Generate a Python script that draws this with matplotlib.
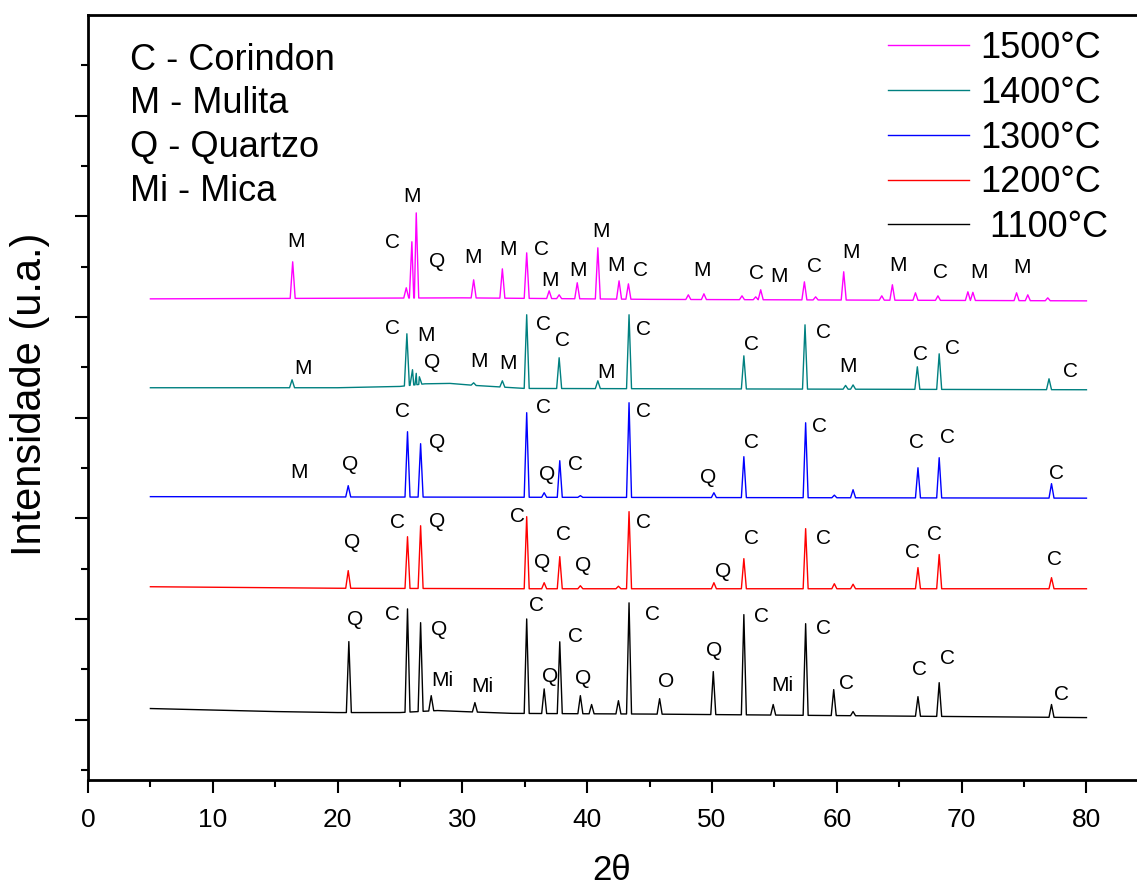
import numpy as np
import matplotlib
matplotlib.use("Agg")
import matplotlib.pyplot as plt

plt.rcParams['font.family'] = ['Liberation Sans', 'DejaVu Sans']

# --- data (2theta, intensity in a.u. incl. offset) ---
temps = ["1100°C", "1200°C", "1300°C", "1400°C", "1500°C"]
legend_labels = [" 1100°C", "1200°C", "1300°C", "1400°C", "1500°C"]
colors = ["black", "#ff0000", "#0000ff", "#008080", "#ff00ff"]

# baselines (x, y) per sample
base_1100_x = [5, 10, 15, 20, 25, 28, 30, 34, 40, 45, 50, 60, 70, 80]
base_1100_y = [110, 95, 80, 70, 70, 90, 80, 62, 58, 55, 50, 40, 30, 20]
base_1200_x = [5, 20, 35, 50, 80]
base_1200_y = [1320, 1305, 1300, 1300, 1300]
base_1300_x = [5, 40, 80]
base_1300_y = [2215, 2208, 2200]
base_1400_x = [5, 20, 25, 27, 29, 31, 35, 80]
base_1400_y = [3297, 3297, 3310, 3336, 3340, 3320, 3290, 3277]
base_1500_x = [5, 30, 45, 80]
base_1500_y = [4180, 4190, 4175, 4160]

# peaks: position and apex intensity
pk_1100_x = [20.9, 25.6, 26.65, 27.5, 31.0, 35.15, 36.55, 37.8, 39.45, 40.35, 42.5,
             43.35, 45.8, 50.1, 52.55, 54.9, 57.5, 59.75, 61.3, 66.5, 68.2, 77.2]
pk_1100_y = [775, 1100, 963, 238, 169, 1000, 305, 773, 238, 150, 188,
             1160, 208, 477, 1043, 150, 953, 298, 80, 228, 367, 150]
pk_1200_x = [20.85, 25.6, 26.65, 35.15, 36.55, 37.8, 39.45, 42.5, 43.35, 50.15,
             52.55, 57.5, 59.8, 61.3, 66.5, 68.2, 77.2]
pk_1200_y = [1480, 1817, 1926, 2016, 1360, 1619, 1330, 1325, 2066, 1360,
             1599, 1897, 1350, 1345, 1510, 1640, 1410]
pk_1300_x = [20.85, 25.6, 26.65, 35.15, 36.55, 37.8, 39.45, 43.35, 50.15, 52.55,
             57.5, 59.8, 61.3, 66.5, 68.2, 77.2]
pk_1300_y = [2324, 2860, 2741, 3049, 2254, 2572, 2225, 3148, 2254, 2612,
             2949, 2230, 2284, 2502, 2602, 2344]
pk_1400_x = [16.35, 25.55, 26.0, 26.3, 26.55, 30.9, 33.2, 35.15, 37.75, 40.85, 43.35,
             52.55, 57.45, 60.7, 61.3, 66.45, 68.2, 77.0]
pk_1400_y = [3376, 3833, 3476, 3440, 3406, 3346, 3366, 4022, 3595, 3366, 4022,
             3614, 3922, 3320, 3325, 3505, 3634, 3386]
pk_1500_x = [16.4, 25.5, 25.95, 26.3, 30.9, 33.2, 35.15, 36.95, 37.75, 39.2, 40.85,
             42.55, 43.3, 48.1, 49.35, 52.4, 53.5, 53.9, 57.4, 58.3, 60.55, 63.6,
             64.45, 66.3, 68.1, 70.5, 70.9, 74.4, 75.3, 76.9]
pk_1500_y = [4548, 4290, 4747, 5034, 4369, 4478, 4637, 4260, 4220, 4340, 4687,
             4359, 4329, 4220, 4230, 4210, 4200, 4270, 4349, 4200, 4449, 4210,
             4320, 4240, 4210, 4250, 4245, 4240, 4220, 4190]

# phase labels: x, y, text
lab_1100 = [(21.4, 993, "Q"), (24.4, 1043, "C"), (28.1, 894, "Q"), (28.4, 387, "Mi"),
            (31.6, 328, "Mi"), (35.9, 1132, "C"), (37.0, 427, "Q"), (39.1, 824, "C"),
            (39.7, 407, "Q"), (45.2, 1043, "C"), (46.3, 377, "O"), (50.2, 685, "Q"),
            (54.0, 1023, "C"), (55.6, 338, "Mi"), (58.9, 904, "C"), (60.8, 357, "C"),
            (66.6, 497, "C"), (68.9, 606, "C"), (78.0, 248, "C")]
lab_1200 = [(21.15, 1758, "Q"), (24.8, 1956, "C"), (28.0, 1966, "Q"), (34.4, 2016, "C"),
            (36.4, 1559, "Q"), (38.1, 1837, "C"), (39.7, 1529, "Q"), (44.5, 1956, "C"),
            (50.9, 1470, "Q"), (53.2, 1797, "C"), (58.9, 1797, "C"), (66.1, 1658, "C"),
            (67.8, 1837, "C"), (77.4, 1589, "C")]
lab_1300 = [(16.9, 2453, "M"), (21.0, 2532, "Q"), (25.2, 3058, "C"), (28.0, 2751, "Q"),
            (36.5, 3098, "C"), (36.8, 2433, "Q"), (39.1, 2532, "C"), (44.5, 3058, "C"),
            (49.7, 2403, "Q"), (53.2, 2751, "C"), (58.65, 2909, "C"), (66.35, 2751, "C"),
            (68.9, 2800, "C"), (77.6, 2443, "C")]
lab_1400 = [(17.2, 3485, "M"), (24.4, 3883, "C"), (27.1, 3813, "M"), (27.6, 3545, "Q"),
            (31.3, 3555, "M"), (33.65, 3535, "M"), (36.5, 3922, "C"), (38.0, 3763, "C"),
            (41.5, 3446, "M"), (44.5, 3873, "C"), (53.2, 3724, "C"), (58.9, 3843, "C"),
            (60.9, 3505, "M"), (66.7, 3624, "C"), (69.3, 3684, "C"), (78.7, 3456, "C")]
lab_1500 = [(16.7, 4747, "M"), (24.4, 4737, "C"), (26.0, 5193, "M"), (28.0, 4548, "Q"),
            (30.85, 4588, "M"), (33.65, 4667, "M"), (36.3, 4667, "C"), (37.0, 4359, "M"),
            (39.3, 4459, "M"), (41.1, 4846, "M"), (42.3, 4508, "M"), (44.3, 4459, "C"),
            (49.2, 4459, "M"), (53.6, 4429, "C"), (55.4, 4399, "M"), (58.25, 4498, "C"),
            (61.1, 4637, "M"), (64.9, 4508, "M"), (68.3, 4439, "C"), (71.4, 4439, "M"),
            (74.8, 4488, "M")]

phases = ["C - Corindon", "M - Mulita", "Q - Quartzo", "Mi - Mica"]

bases = [(base_1100_x, base_1100_y), (base_1200_x, base_1200_y), (base_1300_x, base_1300_y),
         (base_1400_x, base_1400_y), (base_1500_x, base_1500_y)]
peaks = [(pk_1100_x, pk_1100_y), (pk_1200_x, pk_1200_y), (pk_1300_x, pk_1300_y),
         (pk_1400_x, pk_1400_y), (pk_1500_x, pk_1500_y)]
labels = [lab_1100, lab_1200, lab_1300, lab_1400, lab_1500]


def pattern(bx, by, px, py, w=0.2):
    # polyline: baseline points plus foot-apex-foot for each peak
    pts = []
    for p, h in zip(px, py):
        pts.append((p - w, np.interp(p - w, bx, by)))
        pts.append((p, h))
        pts.append((p + w, np.interp(p + w, bx, by)))
    for x, y in zip(bx, by):
        if all(abs(x - p) > w for p in px):
            pts.append((x, y))
    pts.sort(key=lambda t: t[0])
    return [t[0] for t in pts], [t[1] for t in pts]


fig = plt.figure(figsize=(11.37, 8.89), dpi=100)
ax = fig.add_axes([88 / 1137, 1 - 780 / 889, 1 - 88 / 1137, (780 - 15) / 889])

lines = []
for (bx, by), (px, py), c, lab in zip(bases, peaks, colors, legend_labels):
    x, y = pattern(bx, by, px, py)
    ln, = ax.plot(x, y, color=c, lw=1.0, label=lab)
    lines.append(ln)

for labs in labels:
    for x, y, t in labs:
        ax.text(x, y, t, fontsize=15, ha='center', va='center')

ax.set_xlim(0, 84.05)
ax.set_ylim(-600, 7000)
ax.set_xticks(np.arange(0, 81, 10))
ax.set_xticks(np.arange(5, 81, 10), minor=True)
ax.set_yticks(np.arange(0, 6001, 1000))
ax.set_yticks(np.arange(-500, 7000, 1000), minor=True)
ax.set_yticklabels([])
ax.tick_params(which='major', direction='out', length=9.5, width=1.5, labelsize=19, pad=11)
ax.tick_params(which='minor', direction='out', length=5, width=1.5)
ax.spines['right'].set_visible(False)
for s in ['left', 'bottom', 'top']:
    ax.spines[s].set_linewidth(2)

leg = ax.legend(lines[::-1], legend_labels[::-1], loc='upper right',
                bbox_to_anchor=((1108 - 88) / 1049, (780 - 31) / 765),
                frameon=False, fontsize=26, handlelength=2.25, handletextpad=0.3,
                labelspacing=0.27, borderpad=0, borderaxespad=0)

for i, t in enumerate(phases):
    fig.text(130 / 1137, 1 - (60 + 43.7 * i) / 889, t, fontsize=26, ha='left', va='center')

fig.text(30 / 1137, 1 - 394 / 889, "Intensidade (u.a.)", fontsize=30, rotation=90,
         ha='center', va='center')
fig.text(612 / 1137, 1 - 871 / 889, "2θ", fontsize=25, ha='center', va='center')

fig.savefig("out.png", dpi=100)
